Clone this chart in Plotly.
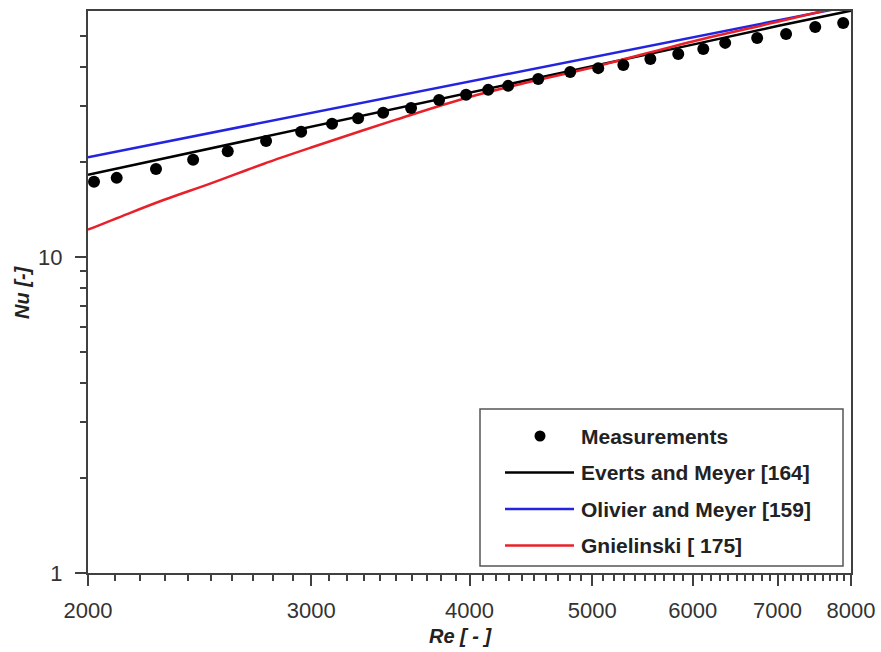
import plotly.graph_objects as go

# ---- data ----
re_meas = [2022, 2107, 2263, 2421, 2578, 2764, 2946, 3116, 3267, 3419, 3597, 3785, 3975,
           4138, 4291, 4532, 4803, 5054, 5290, 5556, 5845, 6117, 6365, 6746, 7110, 7497, 7887]
nu_meas = [17.3, 17.8, 19.0, 20.3, 21.6, 23.3, 24.9, 26.4, 27.5, 28.6, 29.6, 31.4, 32.6,
           33.8, 34.8, 36.6, 38.5, 39.6, 40.5, 42.3, 43.9, 45.5, 47.6, 49.3, 50.8, 53.4, 55.0]

re_everts = [2000, 3000, 4000, 5000, 6000, 7000, 8000]
nu_everts = [18.2, 25.8, 33.1, 40.2, 47.0, 53.8, 60.2]

re_olivier = [2000, 3000, 4000, 5000, 6000, 7000, 8000]
nu_olivier = [20.7, 28.6, 35.9, 42.9, 49.5, 56.0, 62.3]

re_gniel = [2000, 2150, 2300, 2500, 2750, 3000, 3500, 4000, 4500, 5000, 6000, 7000, 8000]
nu_gniel = [12.2, 13.7, 15.2, 17.1, 19.7, 22.2, 27.2, 32.1, 36.1, 39.8, 48.1, 55.5, 63.0]

x_ticks = [2000, 3000, 4000, 5000, 6000, 7000, 8000]
y_ticks = [1, 10]
legend_names = ["Measurements", "Everts and Meyer [164]", "Olivier and Meyer [159]", "Gnielinski [ 175]"]
x_title = "Re [ - ]"
y_title = "Nu [-]"

x_minor = [v for v in range(2100, 8000, 100) if v not in x_ticks]
y_minor = [2, 3, 4, 5, 6, 7, 8, 9, 20, 30, 40, 50]

BLACK = "#000000"
BLUE = "#2424e0"
RED = "#e8202a"
AXC = "#404040"
FONT = "Liberation Sans, Arial, sans-serif"

fig = go.Figure()
fig.add_trace(go.Scatter(x=re_everts, y=nu_everts, mode="lines", line=dict(color=BLACK, width=2.5),
                         name=legend_names[1], showlegend=False))
fig.add_trace(go.Scatter(x=re_olivier, y=nu_olivier, mode="lines", line=dict(color=BLUE, width=2.5),
                         name=legend_names[2], showlegend=False))
fig.add_trace(go.Scatter(x=re_gniel, y=nu_gniel, mode="lines", line=dict(color=RED, width=2.5, shape="spline"),
                         name=legend_names[3], showlegend=False))
fig.add_trace(go.Scatter(x=re_meas, y=nu_meas, mode="markers", marker=dict(color=BLACK, size=12),
                         name=legend_names[0], showlegend=False, cliponaxis=False))

# plot area geometry (pixels)
L, R, T, B = 88, 851, 11, 573
W, H = R - L, B - T


def px(x):
    return (x - L) / W


def py(y):
    return (B - y) / H


shapes = []
annotations = []
# legend box
shapes.append(dict(type="rect", xref="paper", yref="paper", x0=px(480), x1=px(843), y0=py(566), y1=py(409),
                   line=dict(color="#555555", width=1.5), fillcolor="white", layer="above"))
rows = [436, 472.5, 509, 545.5]
colors = [BLACK, BLACK, BLUE, RED]
for i, (name, yy, c) in enumerate(zip(legend_names, rows, colors)):
    if i == 0:
        shapes.append(dict(type="circle", xref="paper", yref="paper",
                           x0=px(540 - 5.5), x1=px(540 + 5.5), y0=py(yy + 5.5), y1=py(yy - 5.5),
                           fillcolor=BLACK, line=dict(color=BLACK, width=0), layer="above"))
    else:
        shapes.append(dict(type="line", xref="paper", yref="paper", x0=px(505), x1=px(574),
                           y0=py(yy), y1=py(yy), line=dict(color=c, width=2.5), layer="above"))
    annotations.append(dict(xref="paper", yref="paper", x=px(579), y=py(yy), xanchor="left", yanchor="middle",
                            text="<b>" + name + "</b>", showarrow=False,
                            font=dict(family=FONT, size=21, color="#222222")))

# axis titles
annotations.append(dict(xref="paper", yref="paper", x=px(461), y=py(636), xanchor="center", yanchor="middle",
                        text="<b><i>" + x_title + "</i></b>", showarrow=False,
                        font=dict(family=FONT, size=20, color="#222222")))
annotations.append(dict(xref="paper", yref="paper", x=px(22), y=py(292), xanchor="center", yanchor="middle",
                        text="<b><i>" + y_title + "</i></b>", showarrow=False, textangle=-90,
                        font=dict(family=FONT, size=20, color="#222222")))

fig.update_layout(
    width=881, height=652,
    margin=dict(l=L, r=881 - R, t=T, b=652 - B),
    paper_bgcolor="white", plot_bgcolor="white",
    font=dict(family=FONT, color="#333333"),
    shapes=shapes, annotations=annotations,
    showlegend=False,
)
fig.update_xaxes(
    type="log", range=[3.30103, 3.90309], automargin=False,
    tickmode="array", tickvals=x_ticks, ticktext=[str(v) for v in x_ticks],
    ticks="outside", ticklen=11, tickwidth=1.5, tickcolor=AXC,
    minor=dict(tickmode="array", tickvals=x_minor, ticks="outside", ticklen=6, tickwidth=1.5, tickcolor=AXC),
    showline=True, linecolor=AXC, linewidth=2, mirror=True, showgrid=False, zeroline=False,
    tickfont=dict(family=FONT, size=22, color="#333333"), ticklabelstandoff=6,
)
fig.update_yaxes(
    type="log", range=[0, 1.7785], automargin=False,
    tickmode="array", tickvals=y_ticks, ticktext=[str(v) for v in y_ticks],
    ticks="outside", ticklen=11, tickwidth=1.5, tickcolor=AXC,
    minor=dict(tickmode="array", tickvals=y_minor, ticks="outside", ticklen=6, tickwidth=1.5, tickcolor=AXC),
    showline=True, linecolor=AXC, linewidth=2, mirror=True, showgrid=False, zeroline=False,
    tickfont=dict(family=FONT, size=22, color="#333333"), ticklabelstandoff=8,
)

fig.write_html("out.html")
